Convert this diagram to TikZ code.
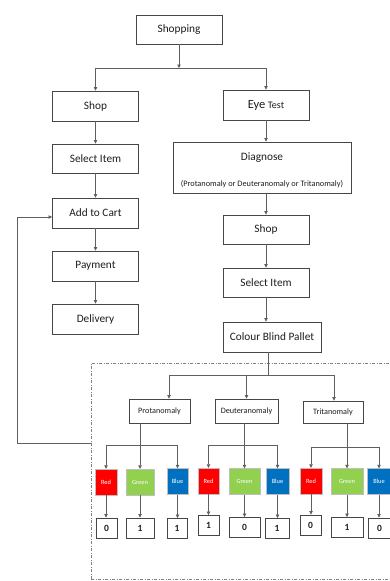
\documentclass[tikz,border=0pt]{standalone}
\usepackage{fontspec}
\setmainfont{Carlito}
\usetikzlibrary{arrows.meta}
\definecolor{bordc}{RGB}{70,70,70}
\definecolor{linec}{RGB}{95,95,95}
\definecolor{cred}{RGB}{255,0,0}
\definecolor{cgreen}{RGB}{146,208,80}
\definecolor{cblue}{RGB}{0,112,192}
\definecolor{txt}{RGB}{30,30,30}
\tikzset{
  bx/.style={draw=bordc, line width=0.9pt, fill=white, inner sep=0pt, text=txt, font=\fontsize{11.3}{13}\selectfont},
  bigbox/.style={bx, minimum width=86pt, minimum height=30pt},
  subbox/.style={bx, minimum height=24pt, font=\fontsize{8.2}{10}\selectfont},
  arr/.style={draw=linec, line width=0.7pt, -{Triangle[length=3.5pt,width=3.5pt]}},
  ln/.style={draw=linec, line width=0.7pt},
  colbox/.style={draw=gray!50, line width=0.4pt, inner sep=0pt, minimum height=26pt, text=white, font=\fontsize{6.4}{7}\selectfont},
  numbox/.style={draw=bordc, line width=0.9pt, inner sep=0pt, minimum height=20pt, text=txt, font=\fontsize{9.5}{10}\selectfont\bfseries},
  region/.style={draw=gray, line width=0.8pt, dash pattern=on 3pt off 1.5pt on 1pt off 1.5pt},
}
\begin{document}
\begin{tikzpicture}[x=1pt,y=-1pt]
\useasboundingbox (0,0) rectangle (390,581);
\fill[white] (0,0) rectangle (390,581);

% dashed region
\draw[region] (91,579) -- (91,363) -- (395,363);
\draw[region] (91,579) -- (395,579);

% top
\node[bigbox, minimum height=29pt] (shopping) at (179,29.5) {Shopping};
\node[bigbox] (shop1) at (95.5,106) {Shop};
\node[bigbox] (eye) at (266,105) {{\fontsize{12.5}{14}\selectfont Eye} {\fontsize{10}{12}\selectfont Test}};
\node[bigbox, minimum height=29pt] (sel1) at (95.5,158.5) {Select Item};
\node[bx, minimum width=178pt, minimum height=51pt] (diag) at (262,167.5) {};
\node[text=txt, font=\fontsize{11.3}{13}\selectfont] (diagt) at (262,158) {Diagnose};
\node[text=txt, font=\fontsize{8.3}{10}\selectfont] (diags) at (262,184) {(Protanomaly or Deuteranomaly or Tritanomaly)};
\node[bigbox] (cart) at (95.5,213) {Add to Cart};
\node[bigbox] (pay) at (95.5,266) {Payment};
\node[bigbox] (deliv) at (95.5,319) {Delivery};
\node[bigbox, minimum height=29pt] (shop2) at (266,229.5) {Shop};
\node[bigbox, minimum height=29pt] (sel2) at (266,282.5) {Select Item};
\node[bigbox, minimum width=98pt] (cbp) at (272,337) {Colour Blind Pallet};

\coordinate (j1) at (179,68);
\draw[arr] (shopping.south) -- (j1);
\draw[arr] (j1) -| (shop1.north);
\draw[arr] (j1) -| (eye.north);
\draw[arr] (shop1.south) -- (sel1.north);
\draw[arr] (sel1.south) -- (cart.north);
\draw[arr] (cart.south) -- (pay.north);
\draw[arr] (pay.south) -- (deliv.north);
\draw[arr] (eye.south) -- (eye.south |- diag.north);
\draw[arr] (diag.south -| shop2) -- (shop2.north);
\draw[arr] (shop2.south) -- (sel2.north);
\draw[arr] (sel2.south) -- (sel2.south |- cbp.north);

% anomaly level
\node[subbox, minimum width=61pt] (pro) at (159.5,411) {Protanomaly};
\node[subbox, minimum width=63pt] (deu) at (246.5,411) {Deuteranomaly};
\node[subbox, minimum width=60pt, minimum height=22pt] (tri) at (333,412) {Tritanomaly};

\coordinate (pL) at (169,375);
\coordinate (pR) at (334,375);
\draw[ln] ([xshift=-4pt]cbp.south) -- ([xshift=-4pt]cbp.south |- pL);
\draw[ln] (pL) -- (pR);
\draw[arr] (pL) -- (pL |- pro.north);
\draw[arr] (deu.north |- pL) -- (deu.north);
\draw[arr] (pR) -- (pR |- tri.north);

% colour boxes
\node[colbox, fill=cred, minimum width=22pt] (r1) at (106,482) {Red};
\node[colbox, fill=cgreen, minimum width=28pt] (g1) at (140,482) {Green};
\node[colbox, fill=cblue, minimum width=21pt] (b1) at (177.5,481.5) {Blue};
\node[colbox, fill=cred, minimum width=21pt] (r2) at (208.5,481) {Red};
\node[colbox, fill=cgreen, minimum width=31pt] (g2) at (244.5,481.5) {Green};
\node[colbox, fill=cblue, minimum width=23pt] (b2) at (277.5,481.5) {Blue};
\node[colbox, fill=cred, minimum width=22pt] (r3) at (311,481) {Red};
\node[colbox, fill=cgreen, minimum width=32pt] (g3) at (347,481.5) {Green};
\node[colbox, fill=cblue, minimum width=24pt] (b3) at (379,481.5) {Blue};

\coordinate (f1) at (0,445);
\coordinate (f3) at (0,447);
\draw[ln] (pro.south -| g1) -- (g1 |- f1);
\draw[ln] (r1 |- f1) -- (b1 |- f1);
\draw[ln] (deu.south -| g2) -- (g2 |- f1);
\draw[ln] (r2 |- f1) -- (b2 |- f1);
\draw[ln] (tri.south -| g3) -- (g3 |- f3);
\draw[ln] (r3 |- f3) -- (b3 |- f3);
\foreach \c in {r1,g1,b1,r2,g2,b2}{\draw[arr] (\c |- f1) -- (\c.north);}
\foreach \c in {r3,g3,b3}{\draw[arr] (\c |- f3) -- (\c.north);}

% number boxes
\node[numbox, minimum width=21pt] (n1) at (106.5,528) {0};
\node[numbox, minimum width=28pt] (n2) at (140,528) {1};
\node[numbox, minimum width=20pt] (n3) at (177,528.5) {1};
\node[numbox, minimum width=21pt] (n4) at (208.5,525.5) {1};
\node[numbox, minimum width=31pt] (n5) at (244.5,527.5) {0};
\node[numbox, minimum width=24pt] (n6) at (277,528.5) {1};
\node[numbox, minimum width=21pt] (n7) at (310.5,525) {0};
\node[numbox, minimum width=32pt] (n8) at (347,527.5) {1};
\node[numbox, minimum width=23pt] (n9) at (379.5,528) {0};
\draw[arr] (r1.south) -- (r1.south |- n1.north);
\draw[arr] (g1.south) -- (g1.south |- n2.north);
\draw[arr] (b1.south) -- (b1.south |- n3.north);
\draw[arr] (r2.south) -- (r2.south |- n4.north);
\draw[arr] (g2.south) -- (g2.south |- n5.north);
\draw[arr] (b2.south) -- (b2.south |- n6.north);
\draw[arr] (r3.south) -- (r3.south |- n7.north);
\draw[arr] (g3.south) -- (g3.south |- n8.north);
\draw[arr] (b3.south) -- (b3.south |- n9.north);

% feedback
\coordinate (fb) at (91,443);
\coordinate (fbc) at (17.5,443);
\draw[arr] (fb) -- (fbc) |- ([yshift=-4pt]cart.west);
\end{tikzpicture}
\end{document}
